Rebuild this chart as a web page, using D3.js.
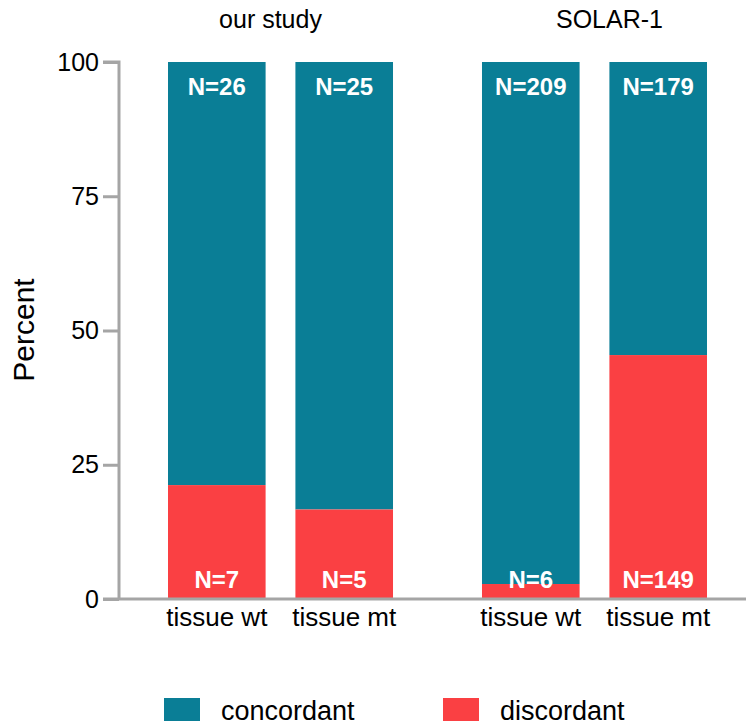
<!DOCTYPE html>
<html><head><meta charset="utf-8">
<script src="https://cdn.jsdelivr.net/npm/d3@7"></script>
<style>body{margin:0;background:#fff}svg{display:block}text{font-family:"Liberation Sans",Arial,Helvetica,sans-serif}</style>
</head><body><svg id="c" width="749" height="727"></svg>
<script>
const groups = ["our study", "SOLAR-1"];
const categories = ["tissue wt", "tissue mt"];
const concordantN = [26, 25, 209, 179];
const discordantN = [7, 5, 6, 149];
const yTicks = [0, 25, 50, 75, 100];
const seriesNames = ["concordant", "discordant"];
const colors = ["#0a7e96", "#fa4043"];

const data = concordantN.map((c, i) => {
  const d = discordantN[i];
  return {group: groups[Math.floor(i / 2)], cat: categories[i % 2], c, d,
    dp: 100 * d / (c + d)};
});

const svg = d3.select("#c");
const y = d3.scaleLinear().domain([0, 100]).range([599, 62]);
const xg = d3.scaleBand().domain(groups).range([168, 707]).paddingInner(0.2834).paddingOuter(0);
const xc = d3.scaleBand().domain(categories).range([0, xg.bandwidth()]).paddingInner(0.234).paddingOuter(0);

const axisColor = "#a5a5a5";
const bars = svg.append("g");
data.forEach(dd => {
  const x0 = xg(dd.group) + xc(dd.cat);
  bars.append("rect").attr("x", x0).attr("width", xc.bandwidth())
    .attr("y", y(100)).attr("height", y(dd.dp) - y(100)).attr("fill", colors[0]);
  bars.append("rect").attr("x", x0).attr("width", xc.bandwidth())
    .attr("y", y(dd.dp)).attr("height", y(0) - y(dd.dp)).attr("fill", colors[1]);
  bars.append("text").attr("x", x0 + xc.bandwidth() / 2).attr("y", y(100) + 33)
    .attr("text-anchor", "middle").attr("fill", "#fff").attr("font-weight", "bold")
    .attr("font-size", 24).text("N=" + dd.c);
  bars.append("text").attr("x", x0 + xc.bandwidth() / 2).attr("y", y(0) - 11)
    .attr("text-anchor", "middle").attr("fill", "#fff").attr("font-weight", "bold")
    .attr("font-size", 24).text("N=" + dd.d);
  svg.append("text").attr("x", x0 + xc.bandwidth() / 2).attr("y", 626)
    .attr("text-anchor", "middle").attr("fill", "#000").attr("font-size", 26).text(dd.cat);
});

// y axis
const yAxis = d3.axisLeft(y).tickValues(yTicks).tickSize(16).tickPadding(4).tickSizeOuter(0);
const ga = svg.append("g").attr("transform", "translate(119,0)").call(yAxis);
ga.selectAll("path,line").attr("stroke", axisColor).attr("stroke-width", 3);
ga.select(".domain").attr("d", "M-16,62H0V599");
ga.selectAll("text").attr("font-size", 25).attr("fill", "#000").attr("font-family", "Liberation Sans, Arial, sans-serif");
// x baseline
svg.append("line").attr("x1", 103).attr("x2", 746).attr("y1", y(0)).attr("y2", y(0))
  .attr("stroke", axisColor).attr("stroke-width", 3);

// group titles (slightly offset from group centres, as in the original)
const titleShift = [-10, 15];
groups.forEach((g, i) => {
  svg.append("text").attr("x", xg(g) + xg.bandwidth() / 2 + titleShift[i]).attr("y", 28)
    .attr("text-anchor", "middle").attr("font-size", 25).attr("fill", "#000").text(g);
});

// y label
svg.append("text").attr("transform", "translate(34,330) rotate(-90)")
  .attr("text-anchor", "middle").attr("font-size", 30).attr("fill", "#000").text("Percent");

// legend
const legX = [164, 443];
seriesNames.forEach((s, i) => {
  svg.append("rect").attr("x", legX[i]).attr("y", 698).attr("width", 36).attr("height", 23).attr("fill", colors[i]);
  svg.append("text").attr("x", legX[i] + 57).attr("y", 720).attr("font-size", 27).attr("fill", "#000").text(s);
});
</script></body></html>
